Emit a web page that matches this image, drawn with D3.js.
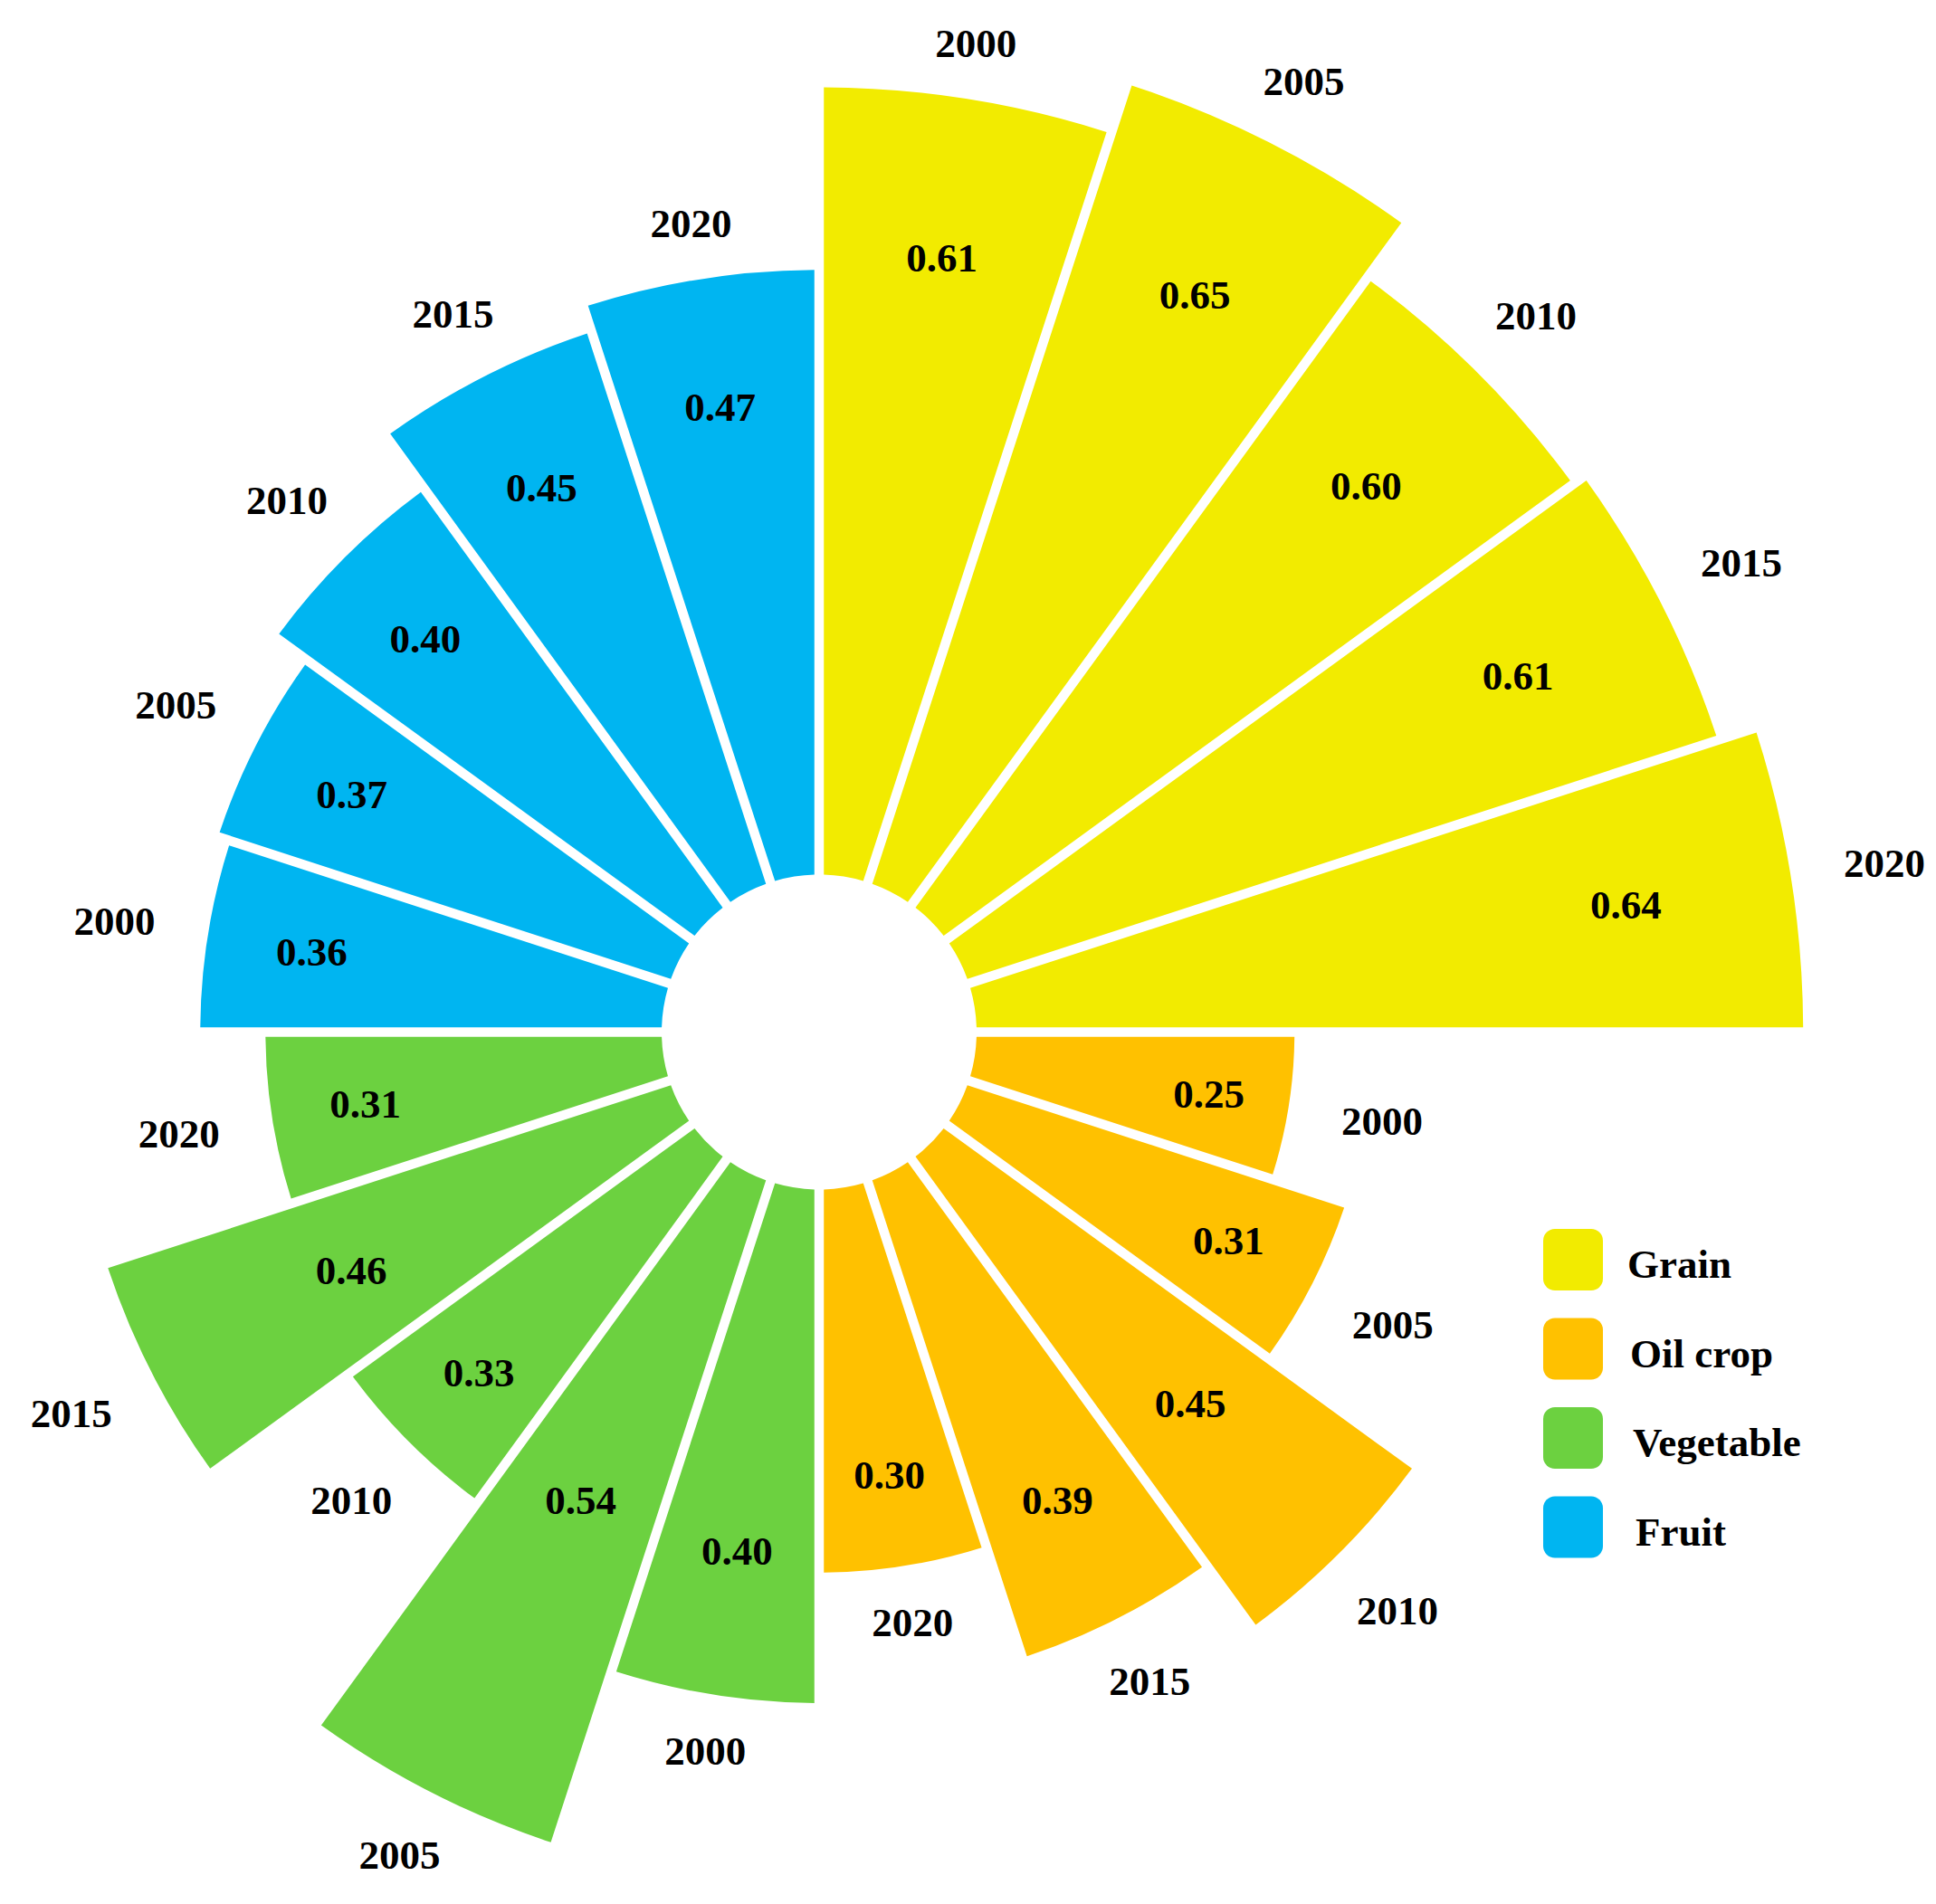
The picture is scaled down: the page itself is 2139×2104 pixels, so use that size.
<!DOCTYPE html>
<html>
<head>
<meta charset="utf-8">
<script src="https://cdn.jsdelivr.net/npm/d3@7"></script>
<style>
  html, body { margin: 0; padding: 0; background: #ffffff; }
  svg { display: block; }
  text { font-family: "Liberation Serif", "Times New Roman", serif; font-weight: bold; fill: #000; }
</style>
</head>
<body>
<svg id="chart" width="2139" height="2104"></svg>
<script>
// ---- data ----
const categories = ["Grain", "Oil crop", "Vegetable", "Fruit"];
const years = ["2000", "2005", "2010", "2015", "2020"];
const grain = [0.61, 0.65, 0.60, 0.61, 0.64];
const oilCrop = [0.25, 0.31, 0.45, 0.39, 0.30];
const vegetable = [0.40, 0.54, 0.33, 0.46, 0.31];
const fruit = [0.36, 0.37, 0.40, 0.45, 0.47];
const colors = ["#F2EB00", "#FFC100", "#6CD140", "#00B5F1"];

const series = [grain, oilCrop, vegetable, fruit];

// ---- layout ----
const W = 2139, H = 2104;
const cx = 905, cy = 1140.5;
const innerR = 174;

const data = [];
categories.forEach((c, ci) => {
  years.forEach((yr, yi) => {
    data.push({ cat: c, ci: ci, year: yr, key: c + "|" + yr, value: series[ci][yi] });
  });
});

const svg = d3.select("#chart");
svg.append("rect").attr("width", W).attr("height", H).attr("fill", "#fff");

const x = d3.scaleBand()
  .domain(data.map(d => d.key))
  .range([0, 2 * Math.PI])
  .padding(0);

const y = d3.scaleLinear().domain([0, 1]).range([165, 1606]);

const color = d3.scaleOrdinal().domain(categories).range(colors);

const arc = d3.arc()
  .innerRadius(innerR)
  .outerRadius(d => y(d.value))
  .startAngle(d => x(d.key))
  .endAngle(d => x(d.key) + x.bandwidth())
  .padAngle(0.105)
  .padRadius(100);

const g = svg.append("g").attr("transform", `translate(${cx},${cy})`);

g.selectAll("path.bar")
  .data(data)
  .join("path")
  .attr("class", "bar")
  .attr("d", arc)
  .attr("fill", d => color(d.cat));

const mid = d => x(d.key) + x.bandwidth() / 2;
const pt = (a, r) => [r * Math.sin(a), -r * Math.cos(a)];

// value labels inside bars
const valueR = d => {
  const a = mid(d);
  let r = 0.83 * y(d.value);
  const lowerHalf = a > Math.PI / 2 && a < 3 * Math.PI / 2;
  if (lowerHalf) r = Math.min(r, 580);
  return r;
};

g.selectAll("text.val")
  .data(data)
  .join("text")
  .attr("class", "val")
  .attr("text-anchor", "middle")
  .attr("dy", "0.34em")
  .attr("font-size", 45)
  .attr("x", d => pt(mid(d), valueR(d))[0])
  .attr("y", d => pt(mid(d), valueR(d))[1])
  .text(d => d3.format(".2f")(d.value));

// year labels outside bars
const yearR = d => y(d.value) + 55 + 50 * Math.abs(Math.sin(mid(d)));
g.selectAll("text.yr")
  .data(data)
  .join("text")
  .attr("class", "yr")
  .attr("text-anchor", "middle")
  .attr("dy", "0.34em")
  .attr("font-size", 45)
  .attr("x", d => pt(mid(d), yearR(d))[0])
  .attr("y", d => pt(mid(d), yearR(d))[1])
  .text(d => d.year);

// legend
const legend = svg.append("g").attr("transform", "translate(1705,1358)");
const item = legend.selectAll("g.item")
  .data(categories)
  .join("g")
  .attr("class", "item")
  .attr("transform", (d, i) => `translate(0,${i * 98.5})`);
item.append("rect")
  .attr("width", 66)
  .attr("height", 68)
  .attr("rx", 13)
  .attr("ry", 13)
  .attr("fill", d => color(d));
item.append("text")
  .attr("x", (d, i) => 93 + i * 3)
  .attr("y", 54)
  .attr("font-size", 45)
  .text(d => d);
</script>
</body>
</html>
